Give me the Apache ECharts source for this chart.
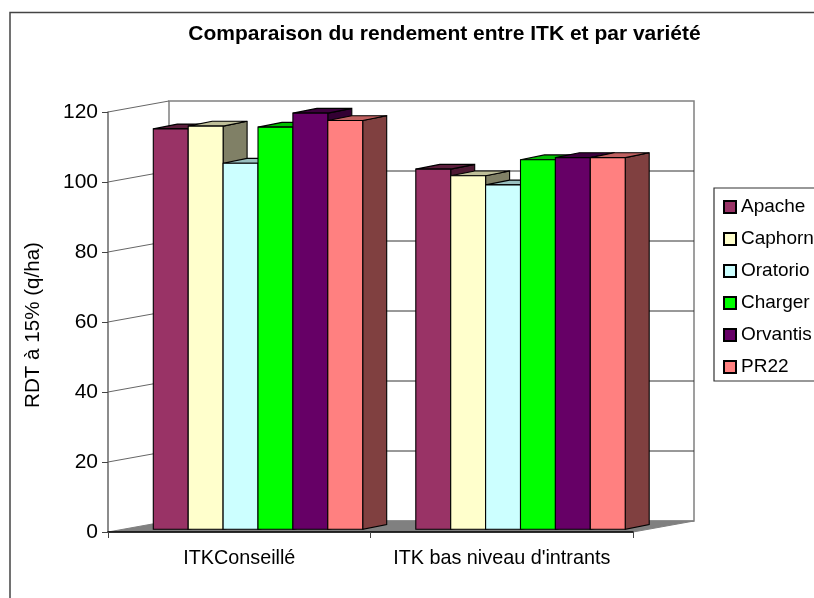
<!DOCTYPE html>
<html><head><meta charset="utf-8">
<style>html,body{margin:0;padding:0;background:#fff}#c{width:814px;height:598px}</style>
<script src="https://cdn.jsdelivr.net/npm/echarts@6/dist/echarts.min.js"></script>
</head><body><div id="c"></div>
<script>
const categories = ["ITKConseillé", "ITK bas niveau d'intrants"];
const varieties = ["Apache", "Caphorn", "Oratorio", "Charger", "Orvantis", "PR22"];
const apache = [114.4, 102.9];
const caphorn = [115.2, 101];
const oratorio = [104.6, 98.4];
const charger = [114.9, 105.6];
const orvantis = [118.9, 106.2];
const pr22 = [116.8, 106.2];
const values = [apache, caphorn, oratorio, charger, orvantis, pr22];
const faceColors = ["#993366", "#FFFFCC", "#CCFFFF", "#00FF00", "#660066", "#FF8080"];
const topColors = ["#5c1f3d", "#BFBF99", "#99BFBF", "#00BF00", "#3d003d", "#BF6060"];
const sideColors = ["#4D1A33", "#808066", "#668080", "#008000", "#330033", "#804040"];
const yTicks = [0, 20, 40, 60, 80, 100, 120];
const title = "Comparaison du rendement entre ITK et par variété";
const yName = "RDT à 15% (q/ha)";

const FONT = '"Liberation Sans", Arial, sans-serif';
const DX = 61, DY = -11;          // wall depth
const BW = 34.9, BDX = 24, BDY = -4.8, FDY = -2.7, SHIFT = 18.75;

function poly(points, fill, stroke, lw) {
  return { type: 'polygon', shape: { points }, style: { fill, stroke: stroke || 'none', lineWidth: lw || 1 } };
}
function wall(params, api) {
  const cs = params.coordSys;
  const l = cs.x, r = cs.x + cs.width, b = cs.y + cs.height;
  const v = api.value(0);
  const y = api.coord([0, v])[1];
  const kids = [];
  if (v === 0) {
    kids.push(poly([[l + DX, b + DY], [r + DX, b + DY], [r + DX, cs.y + DY], [l + DX, cs.y + DY]], '#fff', '#808080', 1.5));
    kids.push(poly([[l, b], [r, b], [r + DX, b + DY], [l + DX, b + DY]], '#808080', '#808080', 1));
  } else {
    kids.push({ type: 'polyline', shape: { points: [[l, y], [l + DX, y + DY]] }, style: { fill: 'none', stroke: '#666', lineWidth: 1 } });
    if (v !== 120) kids.push({ type: 'line', shape: { x1: l + DX, y1: y + DY, x2: r + DX, y2: y + DY }, style: { stroke: '#333', lineWidth: 1 } });
  }
  return { type: 'group', children: kids };
}
function bar3d(i) {
  return function (params, api) {
    const p = api.coord([api.value(0), api.value(1)]);
    const o = api.coord([api.value(0), 0]);
    const x = p[0] + SHIFT + (i - 3) * BW, y = p[1] + FDY, b = o[1] + FDY, xr = x + BW;
    return { type: 'group', children: [
      poly([[xr, y], [xr + BDX, y + BDY], [xr + BDX, b + BDY], [xr, b]], sideColors[i], '#000', 1.1),
      poly([[x, y], [x + BDX, y + BDY], [xr + BDX, y + BDY], [xr, y]], topColors[i], '#000', 1.1),
      poly([[x, y], [xr, y], [xr, b], [x, b]], faceColors[i], '#000', 1.1)
    ]};
  };
}
const series = [{
  type: 'custom', name: '__wall', silent: true, z: 1, renderItem: wall,
  data: yTicks.map(v => [v]), encode: { y: 0 }, clip: false
}].concat(varieties.map((name, i) => ({
  type: 'custom', name, z: 2 + i, renderItem: bar3d(i), clip: false,
  itemStyle: { color: faceColors[i], borderColor: '#000', borderWidth: 1 },
  encode: { x: 0, y: 1 },
  data: categories.map((c, k) => [k, values[i][k]])
})));

const chart = echarts.init(document.getElementById('c'), null, { renderer: 'canvas' });
chart.setOption({
  animation: false,
  backgroundColor: '#fff',
  textStyle: { fontFamily: FONT, color: '#000' },
  title: { text: title, left: 439.5, top: 19, textAlign: 'center',
    textStyle: { fontFamily: FONT, fontSize: 21, fontWeight: 'bold', color: '#000' } },
  graphic: [{ type: 'rect', z: 0, shape: { x: 10, y: 12.5, width: 900, height: 700 }, style: { fill: 'none', stroke: '#444', lineWidth: 1.5 } }],
  grid: { left: 108, top: 112, width: 525, height: 420 },
  xAxis: { type: 'category', data: categories, z: 20,
    axisLine: { show: true, lineStyle: { color: '#000', width: 1.5 } },
    axisTick: { show: true, length: 6, alignWithLabel: false, lineStyle: { color: '#444', width: 1 } },
    axisLabel: { fontFamily: FONT, fontSize: 19.8, color: '#000', margin: 17, interval: 0, hideOverlap: false } },
  yAxis: { type: 'value', min: 0, max: 120, interval: 20, z: 20,
    name: yName, nameLocation: 'middle', nameGap: 64, nameRotate: 90,
    nameTextStyle: { fontFamily: FONT, fontSize: 20.6, color: '#000', padding: [0, 6, 0, 0] },
    axisLine: { show: true, lineStyle: { color: '#666', width: 1.5 } },
    axisTick: { show: true, length: 6, lineStyle: { color: '#444', width: 1 } },
    axisLabel: { fontFamily: FONT, fontSize: 21, color: '#000', margin: 10, padding: [4, 0, 0, 0] },
    splitLine: { show: false } },
  legend: { show: true, orient: 'vertical', left: 714, top: 188, width: 140, align: 'left',
    data: varieties.map(name => ({ name, icon: 'rect' })), itemWidth: 12, itemHeight: 12, itemGap: 12, selectedMode: false,
    backgroundColor: '#fff', borderColor: '#333', borderWidth: 1.2, padding: [9, 60, 4, 9],
    textStyle: { fontFamily: FONT, fontSize: 19, color: '#000', lineHeight: 20 } },
  series
});
</script></body></html>
